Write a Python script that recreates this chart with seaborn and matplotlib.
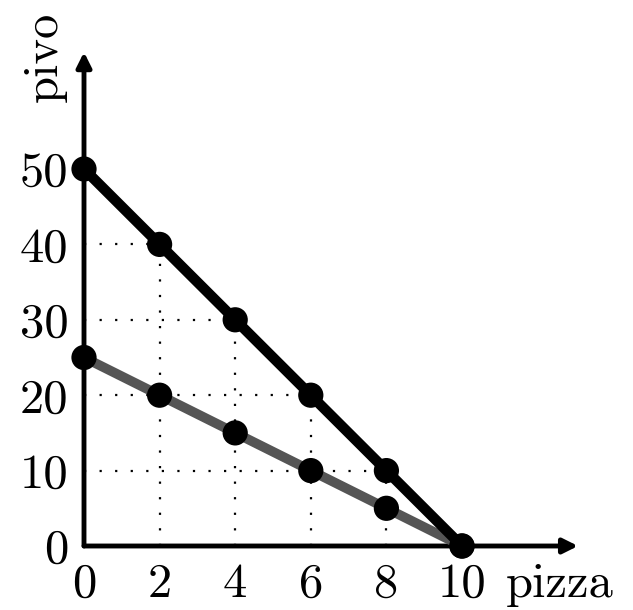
import numpy as np
import pandas as pd
import seaborn as sns
import matplotlib.pyplot as plt

# data
pizza = [0, 2, 4, 6, 8, 10]
pivo_a = [50, 40, 30, 20, 10, 0]
pivo_b = [25, 20, 15, 10, 5, 0]
xticks = [0, 2, 4, 6, 8, 10]
yticks = [0, 10, 20, 30, 40, 50]

df = pd.DataFrame({'pizza': pizza + pizza,
                   'pivo': pivo_a + pivo_b,
                   'line': ['a'] * 6 + ['b'] * 6})

sns.set_style('white', {'text.color': 'black', 'xtick.color': 'black',
                        'ytick.color': 'black', 'axes.labelcolor': 'black'})
plt.rcParams['font.family'] = ['cmr10', 'DejaVu Serif']
plt.rcParams['axes.formatter.use_mathtext'] = True

fig = plt.figure(figsize=(6.33, 6.1), dpi=100)
ax = fig.add_axes([84 / 633, 64 / 610, 378 / 633, 377 / 610])
ax.set_xlim(0, 10)
ax.set_ylim(0, 50)
for s in ax.spines.values():
    s.set_visible(False)

# dotted guides from the black points
for x, y in zip(pizza[1:-1], pivo_a[1:-1]):
    ax.plot([0, x], [y, y], color='black', lw=1.6, ls=(0, (1, 6)), clip_on=False, zorder=1)
    ax.plot([x, x], [0, y], color='black', lw=1.6, ls=(0, (1, 6)), clip_on=False, zorder=1)

# axes with arrows
ax.annotate('', xy=(13.07, 0), xytext=(0, 0), annotation_clip=False,
            arrowprops=dict(arrowstyle='-|>', lw=3.5, color='black', mutation_scale=22, shrinkA=0, shrinkB=0), zorder=2)
ax.annotate('', xy=(0, 65.5), xytext=(0, 0), annotation_clip=False,
            arrowprops=dict(arrowstyle='-|>', lw=3.5, color='black', mutation_scale=22, shrinkA=0, shrinkB=0), zorder=2)

sns.lineplot(data=df[df.line == 'b'], x='pizza', y='pivo', color='#555555', lw=7, ax=ax, zorder=3)
sns.lineplot(data=df[df.line == 'a'], x='pizza', y='pivo', color='black', lw=7.5, ax=ax, zorder=4)
sns.scatterplot(data=df, x='pizza', y='pivo', color='black', s=330, edgecolor='none', ax=ax, zorder=5, clip_on=False)

ax.set_xticks(xticks)
ax.set_yticks(yticks)
ax.set_xticklabels([str(t) for t in xticks], fontsize=35, color='black')
ax.set_yticklabels([str(t) for t in yticks], fontsize=35, color='black')
ax.tick_params(length=0)
ax.tick_params(axis='x', pad=12)
ax.tick_params(axis='y', pad=11)

ax.set_xlabel('pizza', fontsize=35, color='black')
ax.set_ylabel('pivo', fontsize=35, color='black')
ax.xaxis.set_label_coords(1.259, -0.103)
ax.xaxis.label.set_va('center')
ax.yaxis.set_label_coords(-0.103, 1.297)
ax.yaxis.label.set_va('center')

fig.savefig('out.png', dpi=100)
